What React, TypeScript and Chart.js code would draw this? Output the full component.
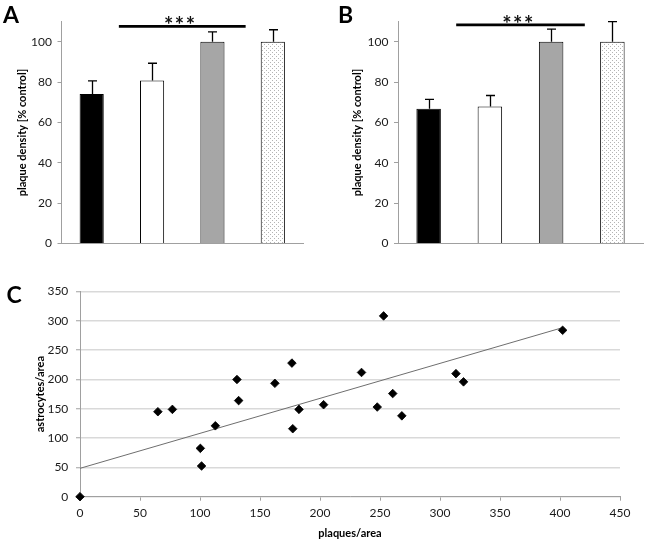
import React, { useEffect, useRef } from 'react';
import { Chart, registerables } from 'chart.js';

Chart.register(...registerables);

// ---------- data ----------
const barGroups = ['1', '2', '3', '4'];
const densityA = [74.2, 80.9, 100, 100];
const errorA = [6.5, 8.5, 5, 6];
const densityB = [66.8, 68, 100, 100];
const errorB = [4.7, 5.4, 6.3, 10];
const sigSpan = [0.45, 2.55];
const sigLevelA = 107.7;
const sigLevelB = 108.4;
const sigLabel = '***';
const barAxisMax = 110;
const barTickStep = 20;

const plaques = [0, 64.9, 77, 100.3, 101.3, 112.8, 130.8, 132.2, 162.4, 176.6, 177.3, 182.5, 203, 234.6, 247.7, 253, 260.6, 268.2, 313.3, 319.6, 402.2];
const astrocytes = [0, 145, 149, 82.5, 52.4, 121, 200, 164, 193.5, 228, 116, 149, 157, 212, 153, 308.5, 176, 138, 210, 196, 284];
const trendX = [0, 402.2];
const trendY = [48.4, 288.5];

const FONT = 'Lato';
const AXIS_GRAY = '#a0a0a0';
const TEXT = '#1a1a1a';

function makeBarPlugin(values: number[], errors: number[], sigLevel: number, letter: string) {
  return {
    id: 'barExtras' + letter,
    afterDatasetsDraw(chart: any) {
      const ctx = chart.ctx;
      const xs = chart.scales.x;
      const ys = chart.scales.y;
      const meta = chart.getDatasetMeta(0);
      ctx.save();
      ctx.strokeStyle = '#000';
      ctx.lineWidth = 1.3;
      meta.data.forEach((el: any, i: number) => {
        const x = Math.round(el.x) + 0.5;
        const top = ys.getPixelForValue(values[i]);
        const yErr = ys.getPixelForValue(values[i] + errors[i]);
        ctx.beginPath();
        ctx.moveTo(x, top);
        ctx.lineTo(x, yErr);
        ctx.moveTo(x - 4.5, yErr);
        ctx.lineTo(x + 4.5, yErr);
        ctx.stroke();
      });
      // significance bar
      const x1 = xs.getPixelForValue(sigSpan[0]);
      const x2 = xs.getPixelForValue(sigSpan[1]);
      const yl = ys.getPixelForValue(sigLevel);
      ctx.lineWidth = 2.8;
      ctx.beginPath();
      ctx.moveTo(x1, yl);
      ctx.lineTo(x2, yl);
      ctx.stroke();
      ctx.fillStyle = '#111';
      ctx.font = `bold 22px ${FONT}`;
      try { (ctx as any).letterSpacing = '1.5px'; } catch (e) {}
      ctx.textAlign = 'center';
      ctx.textBaseline = 'alphabetic';
      const m = ctx.measureText(sigLabel);
      const bottomTarget = yl - 2.2;
      ctx.fillText(sigLabel, (x1 + x2) / 2 - 2, bottomTarget - m.actualBoundingBoxDescent);
      try { (ctx as any).letterSpacing = '0px'; } catch (e) {}
      ctx.restore();
    },
  };
}

function letterPlugin(letter: string, x: number, baseline: number) {
  return {
    id: 'letter' + letter,
    afterDraw(chart: any) {
      const ctx = chart.ctx;
      ctx.save();
      ctx.fillStyle = '#000';
      ctx.font = `bold 23px ${FONT}`;
      ctx.textAlign = 'left';
      ctx.textBaseline = 'alphabetic';
      ctx.fillText(letter, x, baseline);
      ctx.restore();
    },
  };
}

function barConfig(values: number[], errors: number[], sigLevel: number, letter: string, yWidth: number, padRight: number, titlePad: number, pattern: any) {
  return {
    type: 'bar',
    data: {
      labels: barGroups,
      datasets: [
        {
          data: values,
          backgroundColor: ['#000000', '#ffffff', '#a6a6a6', pattern],
          borderColor: '#000',
          borderWidth: 1,
          borderSkipped: 'bottom',
          barPercentage: 0.4,
          categoryPercentage: 1,
        },
      ],
    },
    options: {
      responsive: false,
      animation: false,
      layout: { padding: { left: 0, right: padRight, top: 21.7, bottom: 0 } },
      plugins: { legend: { display: false }, tooltip: { enabled: false }, title: { display: false } },
      scales: {
        x: {
          type: 'category',
          offset: true,
          ticks: { display: false },
          grid: { drawOnChartArea: false, drawTicks: false },
          border: { color: AXIS_GRAY, width: 1 },
          afterFit: (s: any) => { s.height = 16.5; },
        },
        y: {
          min: 0,
          max: barAxisMax,
          ticks: { stepSize: barTickStep, includeBounds: false, font: { family: FONT, size: 12 }, color: TEXT, padding: 5.5 },
          grid: { drawOnChartArea: false, tickLength: 4, color: AXIS_GRAY },
          border: { color: AXIS_GRAY, width: 1 },
          title: {
            display: true,
            text: 'plaque density [% control]',
            font: { family: FONT, size: 11, weight: 'bold' },
            color: '#000',
            padding: { top: titlePad, bottom: 0 },
          },
          afterFit: (s: any) => { s.width = yWidth; },
        },
      },
    },
    plugins: [makeBarPlugin(values, errors, sigLevel, letter), letterPlugin(letter, letter === 'A' ? 3 : 18, 22.7)],
  };
}

export default function App() {
  const refA = useRef<HTMLCanvasElement>(null);
  const refB = useRef<HTMLCanvasElement>(null);
  const refC = useRef<HTMLCanvasElement>(null);

  useEffect(() => {
    Chart.defaults.font.family = FONT;
    const pc = document.createElement('canvas');
    pc.width = 4;
    pc.height = 4;
    const g = pc.getContext('2d')!;
    g.fillStyle = '#ffffff';
    g.fillRect(0, 0, 4, 4);
    g.fillStyle = '#b4b4b4';
    g.fillRect(0, 0, 1, 1);
    g.fillRect(2, 2, 1, 1);
    const pattern = g.createPattern(pc, 'repeat');

    const chartA = new Chart(refA.current!, barConfig(densityA, errorA, sigLevelA, 'A', 61.5, 17, 15.4, pattern) as any);
    const chartB = new Chart(refB.current!, barConfig(densityB, errorB, sigLevelB, 'B', 78, 4, 30.4, pattern) as any);

    const points = plaques.map((x, i) => ({ x, y: astrocytes[i] }));
    const trend = trendX.map((x, i) => ({ x, y: trendY[i] }));
    const chartC = new Chart(refC.current!, {
      type: 'scatter',
      data: {
        datasets: [
          {
            data: points,
            pointStyle: 'rectRot',
            pointRadius: 4.3,
            pointBorderWidth: 0.8,
            backgroundColor: '#000',
            borderColor: '#000',
            clip: false,
            order: 0,
          },
          {
            type: 'line',
            data: trend,
            borderColor: '#6e6e6e',
            borderWidth: 1,
            pointRadius: 0,
            fill: false,
            order: 1,
          },
        ],
      },
      options: {
        responsive: false,
        animation: false,
        layout: { padding: { left: 0, right: 27, top: 21.6, bottom: 0 } },
        plugins: { legend: { display: false }, tooltip: { enabled: false } },
        scales: {
          x: {
            type: 'linear',
            min: 0,
            max: 450,
            ticks: { stepSize: 50, font: { family: FONT, size: 12 }, color: TEXT, padding: 5 },
            grid: { drawOnChartArea: false, tickLength: 4, color: AXIS_GRAY },
            border: { color: AXIS_GRAY, width: 1 },
            title: {
              display: true,
              text: 'plaques/area',
              font: { family: FONT, size: 11, weight: 'bold' },
              color: '#000',
              padding: { top: 0, bottom: 3.4 },
            },
            afterFit: (s: any) => { s.height = 46.3; },
          },
          y: {
            type: 'linear',
            min: 0,
            max: 350,
            ticks: { stepSize: 50, font: { family: FONT, size: 12 }, color: TEXT, padding: 7.7 },
            grid: { color: '#d9d9d9', lineWidth: 1.5, tickLength: 4, tickColor: AXIS_GRAY, tickWidth: 1 },
            border: { color: AXIS_GRAY, width: 1 },
            title: {
              display: true,
              text: 'astrocytes/area',
              font: { family: FONT, size: 11, weight: 'bold' },
              color: '#000',
              padding: { top: 33.4, bottom: 0 },
            },
            afterFit: (s: any) => { s.width = 80; },
          },
        },
      },
      plugins: [letterPlugin('C', 6.5, 33.3)],
    } as any);

    return () => {
      chartA.destroy();
      chartB.destroy();
      chartC.destroy();
    };
  }, []);

  return (
    <div style={{ position: 'absolute', left: 0, top: 0, width: 647, height: 543, background: '#fff', overflow: 'hidden' }}>
      <canvas ref={refA} width={320} height={260} style={{ position: 'absolute', left: 0, top: 0 }} />
      <canvas ref={refB} width={327} height={260} style={{ position: 'absolute', left: 320, top: 0 }} />
      <canvas ref={refC} width={647} height={273} style={{ position: 'absolute', left: 0, top: 270 }} />
    </div>
  );
}
